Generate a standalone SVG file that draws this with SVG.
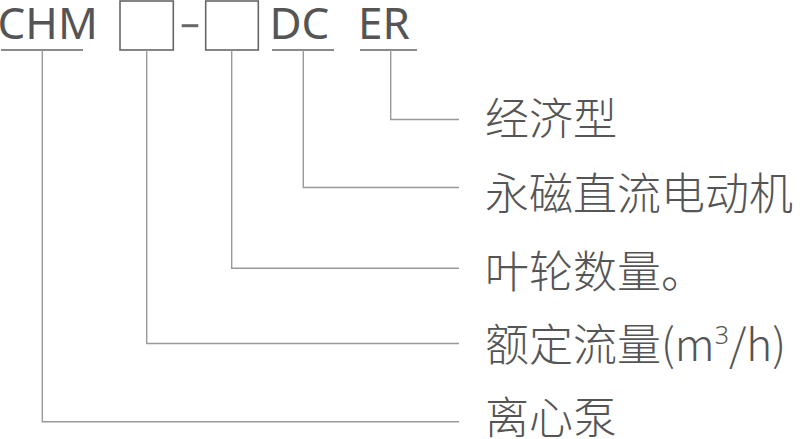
<svg xmlns="http://www.w3.org/2000/svg" width="800" height="439" viewBox="0 0 800 439">
<style>
.code{font-family:"Noto Sans","Liberation Sans",sans-serif;font-size:44px;font-weight:400;fill:#555}
.lbl{font-family:"Noto Sans CJK SC","Noto Sans",sans-serif;font-size:44px;font-weight:300;fill:#555}
.ul{stroke:#8a8a8a;stroke-width:2;fill:none}
.box{stroke:#666;stroke-width:1.6;fill:#fff}
.con{stroke:#999;stroke-width:1.4;fill:none}
</style>
<rect width="800" height="439" fill="#fff"/>
<g id="code-chm">
<text class="code" x="-2.5" y="38.5">CHM</text>
<line class="ul" x1="1" y1="50" x2="83" y2="50"/>
</g>
<g id="code-box1">
<rect class="box" x="120" y="1" width="53.3" height="49"/>
</g>
<g id="code-dash">
<line x1="181.7" y1="25.7" x2="198.3" y2="25.7" stroke="#666" stroke-width="3"/>
</g>
<g id="code-box2">
<rect class="box" x="205.7" y="1" width="52.6" height="49"/>
</g>
<g id="code-dc">
<text class="code" x="269.5" y="38.5">DC</text>
<line class="ul" x1="272" y1="50" x2="334" y2="50"/>
</g>
<g id="code-er">
<text class="code" x="358" y="38.5">ER</text>
<line class="ul" x1="360" y1="50" x2="417" y2="50"/>
</g>
<g id="connectors">
<polyline class="con" points="390.7,50 390.7,119.5 459,119.5"/>
<polyline class="con" points="303.3,50 303.3,187.5 459,187.5"/>
<polyline class="con" points="231.7,50 231.7,268.3 459,268.3"/>
<polyline class="con" points="146.7,50 146.7,343.5 459,343.5"/>
<polyline class="con" points="42.3,50 42.3,421.7 459,421.7"/>
</g>
<g id="label-er"><text class="lbl" x="485" y="134.5">经济型</text></g>
<g id="label-dc"><text class="lbl" x="485" y="209.5">永磁直流电动机</text></g>
<g id="label-impeller"><text class="lbl" x="485" y="287.5">叶轮数量。</text></g>
<g id="label-flow"><text class="lbl" x="485" y="361">额定流量(m<tspan font-family="Noto Sans, sans-serif" style="font-size:25px" dy="-17">3</tspan><tspan dy="17">/h)</tspan></text></g>
<g id="label-pump"><text class="lbl" x="485" y="433.5">离心泵</text></g>
</svg>
